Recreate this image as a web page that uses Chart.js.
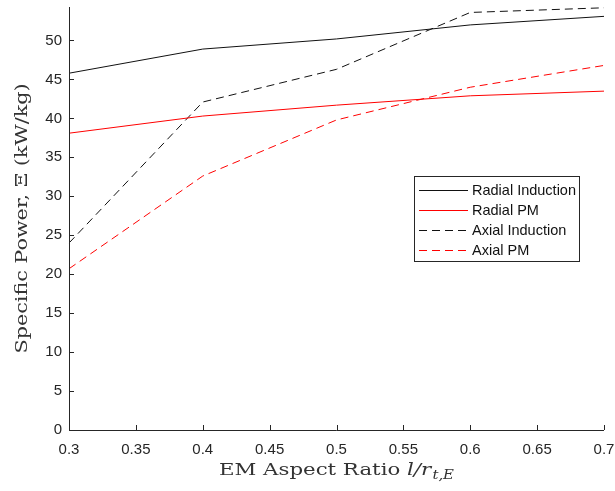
<!DOCTYPE html>
<html><head><meta charset="utf-8">
<script src="https://cdn.jsdelivr.net/npm/chart.js@4.4.0/dist/chart.umd.min.js"></script>
<style>html,body{margin:0;padding:0;background:#fff}#wrap{width:615px;height:491px}</style>
</head><body><div id="wrap"><canvas id="c" width="615" height="491"></canvas></div>
<script>
const xValues = [0.3, 0.4, 0.5, 0.6, 0.7];
const radialInduction = [45.8, 48.9, 50.2, 52.0, 53.1];
const radialPM = [38.1, 40.3, 41.7, 42.9, 43.5];
const axialInduction = [24.0, 42.1, 46.3, 53.6, 54.2];
const axialPM = [20.7, 32.6, 39.8, 44.0, 46.8];
const seriesLabels = ['Radial Induction', 'Radial PM', 'Axial Induction', 'Axial PM'];
const yTitle = 'Specific Power, \u039E (kW/kg)';
const xTitleMain = 'EM Aspect Ratio ';

const toPts = arr => arr.map((v, i) => ({x: xValues[i], y: v}));
const AX = '#262626';
const TXT = '#333333';
const SERIF = '"DejaVu Serif", serif';

const inwardTicks = {
  id: 'inwardTicks',
  afterDraw(chart) {
    const ctx = chart.ctx, a = chart.chartArea;
    const xs = chart.scales.x, ys = chart.scales.y;
    ctx.save();
    ctx.strokeStyle = AX; ctx.lineWidth = 1;
    ctx.beginPath();
    ctx.moveTo(a.left + 0.5, a.top); ctx.lineTo(a.left + 0.5, a.bottom + 0.5); ctx.lineTo(a.right, a.bottom + 0.5);
    xs.ticks.forEach(t => { const p = Math.round(xs.getPixelForValue(t.value)) + 0.5; ctx.moveTo(p, a.bottom); ctx.lineTo(p, a.bottom - 5); });
    ys.ticks.forEach(t => { const p = Math.round(ys.getPixelForValue(t.value)) + 0.5; ctx.moveTo(a.left, p); ctx.lineTo(a.left + 5, p); });
    ctx.stroke();
    // x title with subscript (stretched horizontally to match the reference width)
    ctx.fillStyle = TXT;
    ctx.textBaseline = 'alphabetic';
    const sz = 17.5;
    const f1 = sz + 'px ' + SERIF, f2 = 'italic ' + sz + 'px ' + SERIF, f3 = 'italic ' + (sz * 0.7) + 'px ' + SERIF;
    ctx.font = f1; const w1 = ctx.measureText(xTitleMain).width;
    ctx.font = f2; const w2 = ctx.measureText('l/r').width;
    ctx.font = f3; const w3 = ctx.measureText('t,E').width;
    const wTot = w1 + w2 + w3 + 1;
    const kx = 235 / wTot;
    ctx.save();
    ctx.translate((a.left + a.right) / 2 - 235 / 2, 475);
    ctx.scale(kx, 1);
    let x0 = 0;
    ctx.font = f1; ctx.fillText(xTitleMain, x0, 0); x0 += w1;
    ctx.font = f2; ctx.fillText('l/r', x0, 0); x0 += w2 + 1;
    ctx.font = f3; ctx.fillText('t,E', x0, 4);
    ctx.restore();
    // y title
    ctx.save();
    ctx.font = sz + 'px ' + SERIF;
    const wy = ctx.measureText(yTitle).width;
    ctx.translate(22, (a.top + a.bottom) / 2);
    ctx.rotate(-Math.PI / 2);
    ctx.scale(270 / wy, 1);
    ctx.textAlign = 'center'; ctx.textBaseline = 'middle';
    ctx.fillText(yTitle, 0, 0);
    ctx.restore();
    // legend
    const lx = 414.5, ly = 176.5, lw = 165, lh = 85;
    ctx.fillStyle = '#fff'; ctx.fillRect(lx, ly, lw, lh);
    ctx.strokeStyle = AX; ctx.strokeRect(lx, ly, lw, lh);
    ctx.font = '14.5px "Liberation Sans", Arial, sans-serif';
    ctx.textBaseline = 'middle'; ctx.textAlign = 'left';
    chart.data.datasets.forEach((ds, i) => {
      const yy = 190.5 + i * 20.2;
      ctx.beginPath();
      ctx.strokeStyle = ds.borderColor; ctx.lineWidth = 1;
      ctx.setLineDash(ds.borderDash || []);
      ctx.moveTo(419, Math.round(yy - 1) + 0.5); ctx.lineTo(468, Math.round(yy - 1) + 0.5); ctx.stroke();
      ctx.setLineDash([]);
      ctx.fillStyle = '#111';
      ctx.fillText(ds.label, 472, yy);
    });
    ctx.restore();
  }
};

new Chart(document.getElementById('c'), {
  type: 'line',
  data: {
    datasets: [
      {label: seriesLabels[0], data: toPts(radialInduction), borderColor: '#111111', borderWidth: 1},
      {label: seriesLabels[1], data: toPts(radialPM), borderColor: '#ff0000', borderWidth: 1},
      {label: seriesLabels[2], data: toPts(axialInduction), borderColor: '#111111', borderWidth: 1, borderDash: [8, 5]},
      {label: seriesLabels[3], data: toPts(axialPM), borderColor: '#ff0000', borderWidth: 1, borderDash: [8, 5]}
    ]
  },
  options: {
    responsive: false, animation: false,
    layout: {padding: {top: 7, right: 11, left: 0, bottom: 0}},
    elements: {point: {radius: 0}, line: {tension: 0}},
    clip: false,
    plugins: {legend: {display: false}, tooltip: {enabled: false}},
    scales: {
      x: {
        type: 'linear', min: 0.3, max: 0.7,
        ticks: {stepSize: 0.05, color: AX, font: {family: '"Liberation Sans", Arial, sans-serif', size: 15}, padding: 11, maxRotation: 0,
          callback: v => String(+v.toFixed(2))},
        grid: {display: false, drawTicks: false},
        border: {display: false},
        afterFit: s => { s.height = 61; s.paddingLeft = 0; s.paddingRight = 0; }
      },
      y: {
        min: 0, max: 54.3,
        ticks: {stepSize: 5, includeBounds: false, color: AX, font: {family: '"Liberation Sans", Arial, sans-serif', size: 15}, padding: 7},
        grid: {display: false, drawTicks: false},
        border: {display: false},
        afterFit: s => { s.width = 69; s.paddingTop = 0; s.paddingBottom = 0; }
      }
    }
  },
  plugins: [inwardTicks]
});
</script>
</body></html>
